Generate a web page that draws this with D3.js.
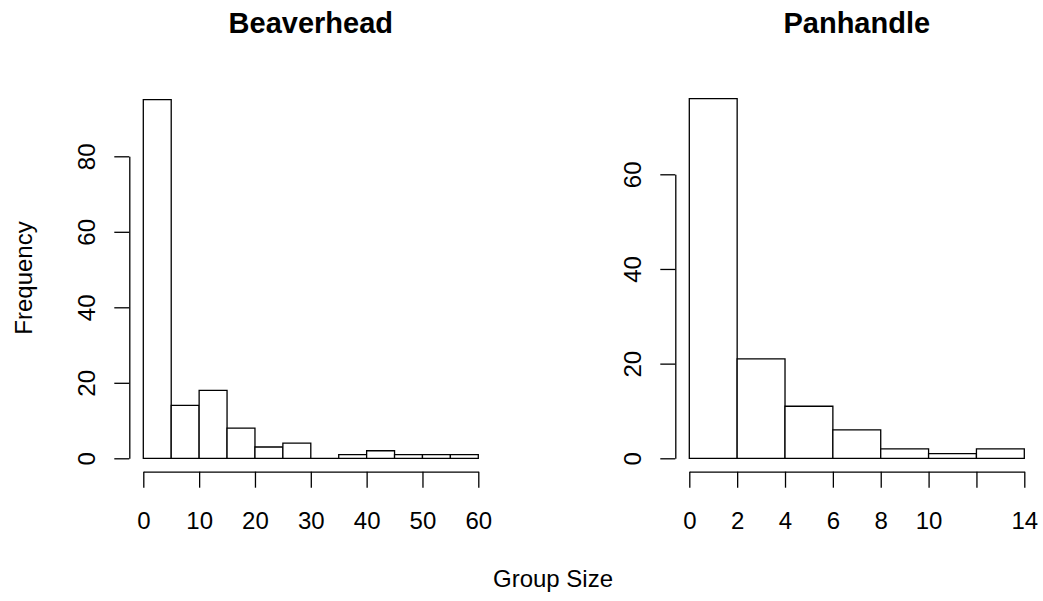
<!DOCTYPE html>
<html>
<head>
<meta charset="utf-8">
<script src="https://cdn.jsdelivr.net/npm/d3@7"></script>
<style>
  body { margin: 0; background: #fff; }
  svg { display: block; font-family: "Liberation Sans", Arial, sans-serif; }
  .axis path, .axis line { stroke: #000; stroke-width: 1.3; }
  .axis text { fill: #000; font-size: 24px; }
</style>
</head>
<body>
<div id="chart"></div>
<script>
// Beaverhead: bins of width 5 from 0 to 60
const beaverBreaks = [0, 5, 10, 15, 20, 25, 30, 35, 40, 45, 50, 55, 60]
const beaverCounts = [95, 14, 18, 8, 3, 4, 0, 1, 2, 1, 1, 1]
const beaverXTicks = [0, 10, 20, 30, 40, 50, 60]
const beaverXLabels = ['0', '10', '20', '30', '40', '50', '60']
const beaverYTicks = [0, 20, 40, 60, 80]

// Panhandle: bins of width 2 from 0 to 14
const panBreaks = [0, 2, 4, 6, 8, 10, 12, 14]
const panCounts = [76, 21, 11, 6, 2, 1, 2]
const panXTicks = [0, 2, 4, 6, 8, 10, 12, 14]
const panXLabels = ['0', '2', '4', '6', '8', '10', '', '14']
const panYTicks = [0, 20, 40, 60]

const W = 1043
const H = 601

const svg = d3.select('#chart')
  .append('svg')
  .attr('width', W)
  .attr('height', H)

const panels = [
  {
    title: 'Beaverhead', breaks: beaverBreaks, counts: beaverCounts,
    xTicks: beaverXTicks, xLabels: beaverXLabels, yTicks: beaverYTicks,
    xRange: [143.3, 478.3], yAxisX: 129.3, yTop: 156.3
  },
  {
    title: 'Panhandle', breaks: panBreaks, counts: panCounts,
    xTicks: panXTicks, xLabels: panXLabels, yTicks: panYTicks,
    xRange: [689.3, 1024.3], yAxisX: 675.3, yTop: 174.3
  }
]

const baseY = 458.3
const xAxisY = 471.7

panels.forEach(p => {
  const x = d3.scaleLinear()
    .domain(d3.extent(p.breaks))
    .range(p.xRange)
  const y = d3.scaleLinear()
    .domain(d3.extent(p.yTicks))
    .range([baseY, p.yTop])

  const g = svg.append('g')

  // bars as closed paths so empty bins still show a baseline segment
  g.selectAll('path.bar')
    .data(p.counts)
    .enter()
    .append('path')
    .attr('class', 'bar')
    .attr('d', (d, i) => {
      const x0 = x(p.breaks[i]), x1 = x(p.breaks[i + 1])
      return `M${x0},${y(0)}V${y(d)}H${x1}V${y(0)}Z`
    })
    .attr('fill', '#fff')
    .attr('stroke', '#000')
    .attr('stroke-width', 1.3)

  // x axis
  const xAxis = g.append('g')
    .attr('class', 'axis')
    .attr('transform', `translate(0,${xAxisY})`)
    .call(d3.axisBottom(x)
      .tickValues(p.xTicks)
      .tickFormat((d, i) => p.xLabels[i])
      .tickSize(16)
      .tickSizeOuter(0))
  xAxis.selectAll('text')
    .attr('y', 57)
    .attr('dy', 0)

  // y axis
  const yAxis = g.append('g')
    .attr('class', 'axis')
    .attr('transform', `translate(${p.yAxisX},0)`)
    .call(d3.axisLeft(y)
      .tickValues(p.yTicks)
      .tickSize(15)
      .tickSizeOuter(0))
  yAxis.selectAll('text')
    .attr('x', 0)
    .attr('dy', 0)
    .attr('text-anchor', 'middle')
    .attr('transform', 'translate(-34,0) rotate(-90)')

  // title
  svg.append('text')
    .attr('x', (p.xRange[0] + p.xRange[1]) / 2)
    .attr('y', 33)
    .attr('text-anchor', 'middle')
    .attr('font-size', 29)
    .attr('font-weight', 'bold')
    .text(p.title)
})

// shared axis titles
svg.append('text')
  .attr('x', 553)
  .attr('y', 587)
  .attr('text-anchor', 'middle')
  .attr('font-size', 24)
  .text('Group Size')

svg.append('text')
  .attr('transform', 'translate(32,278) rotate(-90)')
  .attr('text-anchor', 'middle')
  .attr('font-size', 24)
  .text('Frequency')
</script>
</body>
</html>
